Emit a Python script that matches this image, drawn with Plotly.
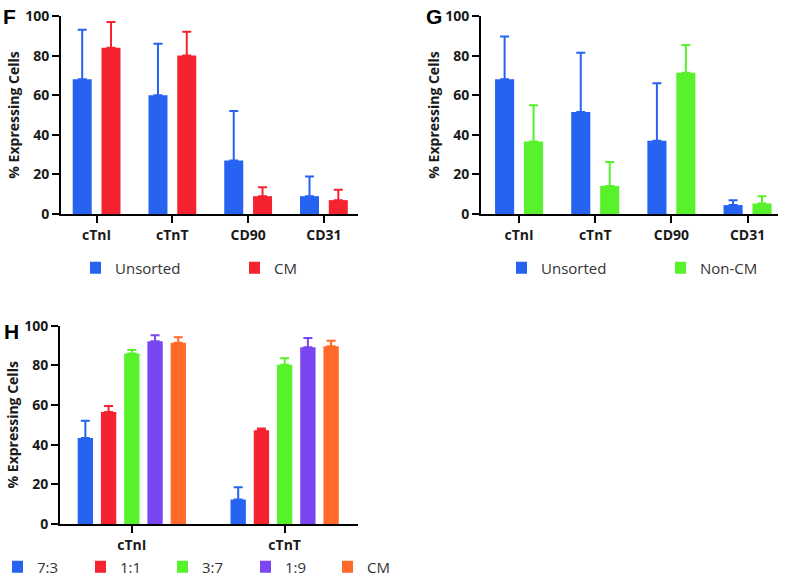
import plotly.graph_objects as go

# panel F / G : markers
markers = ["cTnI", "cTnT", "CD90", "CD31"]

f_unsorted = [68, 60, 27, 9]
f_unsorted_err = [25, 26, 25, 10]
f_cm = [84, 80, 9, 7]
f_cm_err = [13, 12, 4.5, 5.3]

g_unsorted = [68, 51.5, 37, 4.5]
g_unsorted_err = [21.7, 30, 29, 2.5]
g_noncm = [36.6, 14.2, 71.3, 5.3]
g_noncm_err = [18.3, 12, 14, 3.7]

# panel H : ratios
h_markers = ["cTnI", "cTnT"]
ratios = ["7:3", "1:1", "3:7", "1:9", "CM"]
h_values = [[43.4, 12.4], [56.5, 47.3], [86, 80.3], [92.1, 89.1], [91.4, 89.6]]
h_err = [[8.7, 6.1], [3, 0.8], [1.7, 3.2], [3, 4.7], [2.7, 2.8]]

BLUE = "#2563F0"
RED = "#F5222F"
GREEN = "#57F22B"
PURPLE = "#7A46F2"
ORANGE = "#FF6A2A"
h_colors = [BLUE, RED, GREEN, PURPLE, ORANGE]

W, H = 786, 576
FONT = "Open Sans"


def px_x(a, b):
    return [a / W, b / W]


def px_y(top, bottom):
    return [1 - bottom / H, 1 - top / H]


def bar(x, y, err, color, name, xa, ya, legend):
    return go.Bar(
        x=x, y=y, name=name, marker_color=color, marker_line_width=0,
        xaxis=xa, yaxis=ya, legend=legend, showlegend=True,
        error_y=dict(type="data", array=err, arrayminus=[0] * len(err),
                     symmetric=False, color=color, thickness=2, width=4.5),
    )


fig = go.Figure()
fig.add_trace(bar(markers, f_unsorted, f_unsorted_err, BLUE, "Unsorted", "x", "y", "legend"))
fig.add_trace(bar(markers, f_cm, f_cm_err, RED, "CM", "x", "y", "legend2"))
fig.add_trace(bar(markers, g_unsorted, g_unsorted_err, BLUE, "Unsorted", "x2", "y2", "legend3"))
fig.add_trace(bar(markers, g_noncm, g_noncm_err, GREEN, "Non-CM", "x2", "y2", "legend4"))
for i, (name, vals, errs, col) in enumerate(zip(ratios, h_values, h_err, h_colors)):
    fig.add_trace(bar(h_markers, vals, errs, col, name, "x3", "y3", "legend%d" % (5 + i)))

xcommon = dict(showline=True, linecolor="black", linewidth=2, ticks="outside",
               ticklen=7, tickwidth=2, tickcolor="black", showgrid=False,
               zeroline=False,
               tickfont=dict(family=FONT, size=14, color="#1a1a1a", weight="bold"))
ycommon = dict(xcommon, range=[0, 100], tickvals=[0, 20, 40, 60, 80, 100],
               title=dict(text="% Expressing Cells", standoff=2,
                          font=dict(family=FONT, size=14, color="#1a1a1a", weight="bold")))

legcommon = dict(orientation="h", font=dict(family=FONT, size=15, color="#333"),
                 xanchor="left", yanchor="middle", bgcolor="rgba(0,0,0,0)",
                 indentation=-15)

# legend positions in px (left edge, centre line)
leg_pos = {
    "legend": (90, 268), "legend2": (249, 268),
    "legend3": (516, 268), "legend4": (675, 268),
    "legend5": (12, 567), "legend6": (95, 567), "legend7": (177, 567),
    "legend8": (260, 567), "legend9": (342, 567),
}
legends = {k: dict(legcommon, x=px / W, y=1 - py / H) for k, (px, py) in leg_pos.items()}

letter_font = dict(family="Liberation Sans", size=21, color="black")

fig.update_layout(
    width=W, height=H, margin=dict(l=0, r=0, t=0, b=0, autoexpand=False),
    paper_bgcolor="white", plot_bgcolor="white", showlegend=True,
    barmode="group", bargap=0.24, bargroupgap=0.34,
    xaxis=dict(xcommon, domain=px_x(61, 358), range=[-0.47, 3.45], anchor="y"),
    yaxis=dict(ycommon, domain=px_y(16, 214), anchor="x"),
    xaxis2=dict(xcommon, domain=px_x(481, 778), range=[-0.5, 3.4], anchor="y2"),
    yaxis2=dict(ycommon, domain=px_y(16, 214), anchor="x2"),
    xaxis3=dict(xcommon, domain=px_x(60, 358), range=[-0.47, 1.48], anchor="y3"),
    yaxis3=dict(ycommon, domain=px_y(325.6, 524), anchor="x3"),
    annotations=[
        dict(text="<b>F</b>", x=1 / W, y=1 - 3 / H, xref="paper", yref="paper",
             xanchor="left", yanchor="top", showarrow=False, font=letter_font),
        dict(text="<b>G</b>", x=424 / W, y=1 - 3 / H, xref="paper", yref="paper",
             xanchor="left", yanchor="top", showarrow=False, font=letter_font),
        dict(text="<b>H</b>", x=2 / W, y=1 - 318 / H, xref="paper", yref="paper",
             xanchor="left", yanchor="top", showarrow=False, font=letter_font),
    ],
    **legends,
)

# drop the browser's default 8px body margin so the figure fills the window
fig.write_html("out.html", config={"displayModeBar": False},
               post_script="document.body.style.margin='0';")
